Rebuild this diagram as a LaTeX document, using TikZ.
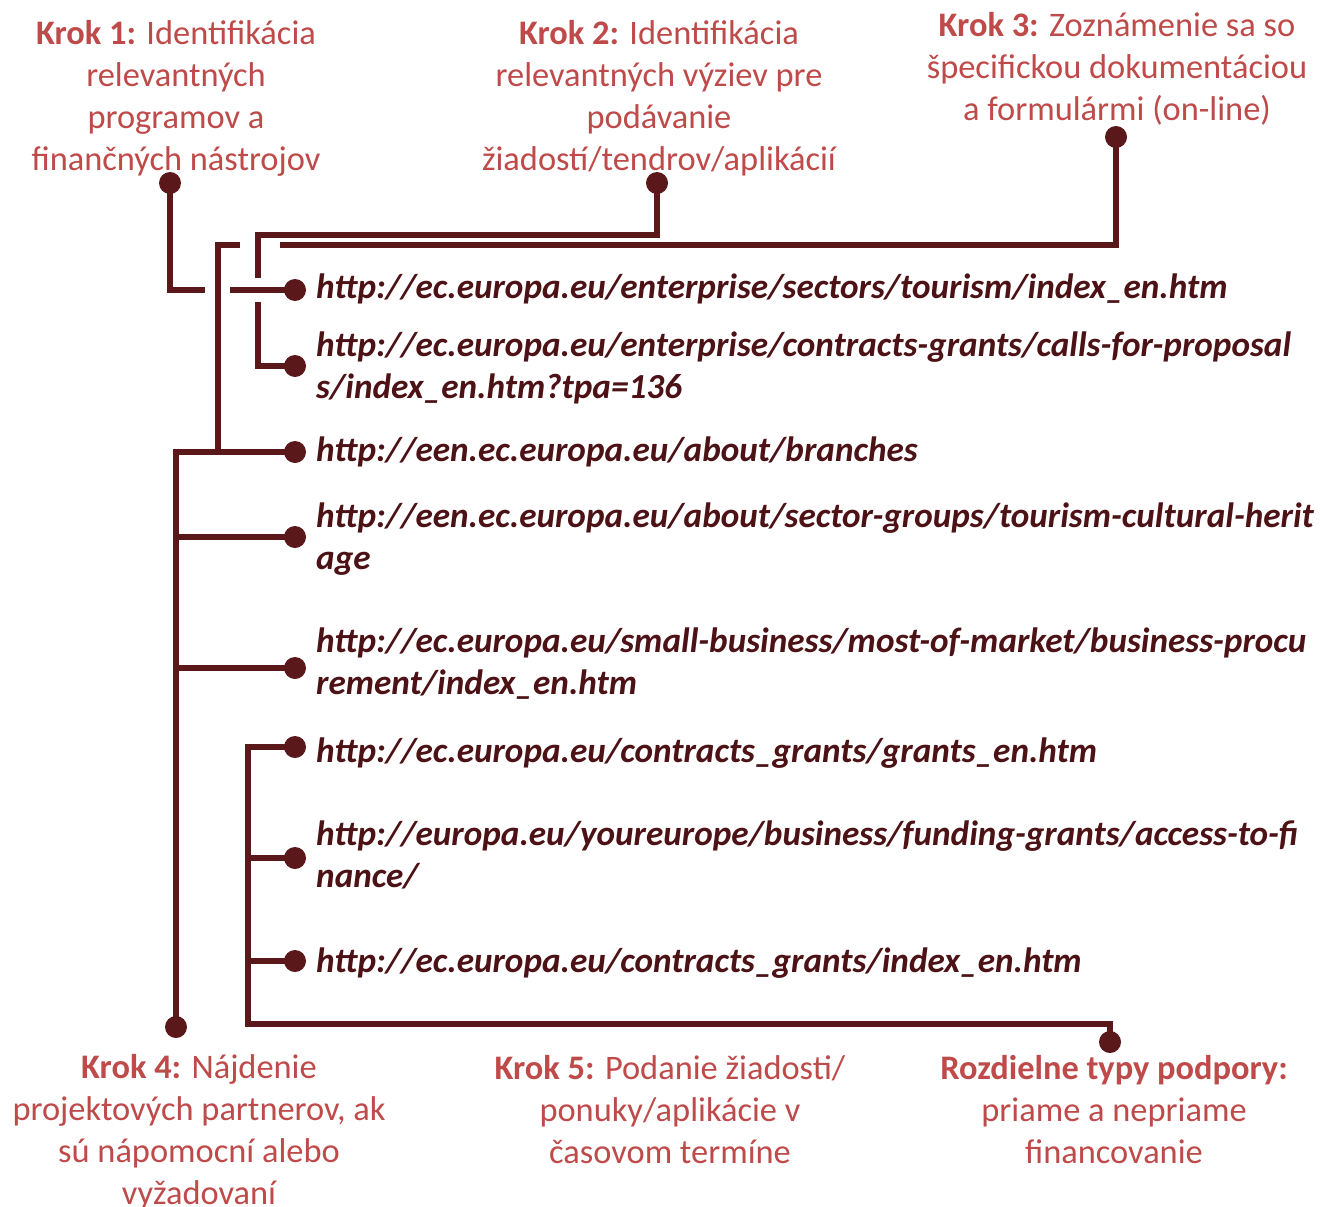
\documentclass[tikz,border=0pt]{standalone}
\usepackage{fontspec}
\setmainfont{Carlito}
\definecolor{lc}{HTML}{5A181B}
\definecolor{hc}{HTML}{BF4A4A}
\definecolor{uc}{HTML}{4C1215}
\begin{document}
\begin{tikzpicture}[x=1pt,y=-1pt,
  conn/.style={draw=lc,line width=6.5pt},
  dotnode/.style={circle,fill=lc,inner sep=0pt,minimum size=22pt},
  head/.style={anchor=north,align=center,inner sep=0pt,text=hc,font=\fontsize{34.4}{42}\selectfont},
  url/.style={anchor=north west,align=left,inner sep=0pt,text=uc,font=\fontsize{35.2}{42}\selectfont\bfseries\itshape}]
\useasboundingbox[fill=white] (0,0) rectangle (1320,1207);
\newcommand{\fl}{\rule{0pt}{30pt}}
% headings
\node[head] (k1) at (176,14) {\fl\textbf{Krok 1:} Identifikácia\\relevantných\\programov a\\finančných nástrojov};
\node[head] (k2) at (659,14) {\fl\textbf{Krok 2:} Identifikácia\\relevantných výziev pre\\podávanie\\žiadostí/tendrov/aplikácií};
\node[head] (k3) at (1117,6) {\fl\textbf{Krok 3:} Zoznámenie sa so\\špecifickou dokumentáciou\\a formulármi (on-line)};
\node[head] (k4) at (199,1048) {\fl\textbf{Krok 4:} Nájdenie\\projektových partnerov, ak\\sú nápomocní alebo\\vyžadovaní};
\node[head] (k5) at (670,1049) {\fl\textbf{Krok 5:} Podanie žiadosti/\\ponuky/aplikácie v\\časovom termíne};
\node[head] (rt) at (1114,1049) {\fl\textbf{Rozdielne typy podpory:}\\priame a nepriame\\financovanie};
% urls
\node[url] (u1) at (316,268) {\fl http://ec.europa.eu/enterprise/sectors/tourism/index\_en.htm};
\node[url] (u2) at (316,326) {\fl http://ec.europa.eu/enterprise/contracts-grants/calls-for-proposal\\s/index\_en.htm?tpa=136};
\node[url] (u3) at (316,431) {\fl http://een.ec.europa.eu/about/branches};
\node[url] (u4) at (316,497) {\fl http://een.ec.europa.eu/about/sector-groups/tourism-cultural-herit\\age};
\node[url] (u5) at (316,622) {\fl http://ec.europa.eu/small-business/most-of-market/business-procu\\rement/index\_en.htm};
\node[url] (u6) at (316,732) {\fl http://ec.europa.eu/contracts\_grants/grants\_en.htm};
\node[url] (u7) at (316,815) {\fl http://europa.eu/youreurope/business/funding-grants/access-to-fi\\nance/};
\node[url] (u8) at (316,942) {\fl http://ec.europa.eu/contracts\_grants/index\_en.htm};
% dots
\node[dotnode] (k1d) at (170,183) {};
\node[dotnode] (k2d) at (657,183) {};
\node[dotnode] (k3d) at (1116,137) {};
\node[dotnode] (k4d) at (176,1027) {};
\node[dotnode] (rd) at (1110,1042) {};
\node[dotnode] (d1) at (295,290) {};
\node[dotnode] (d2) at (295,366) {};
\node[dotnode] (d3) at (295,452) {};
\node[dotnode] (d4) at (295,537) {};
\node[dotnode] (d5) at (295,668) {};
\node[dotnode] (d6) at (295,747) {};
\node[dotnode] (d7) at (295,858) {};
\node[dotnode] (d8) at (295,961) {};
% coordinates
\coordinate (k1end) at (205,290);
\coordinate (k1re) at (230,290);
\coordinate (vtop) at (240,245);
\coordinate (k2end) at (258,278);
\coordinate (k2re) at (258,302);
\coordinate (k3end) at (280,245);
% connectors
\draw[conn] (k1d.center) |- (k1end);
\draw[conn] (k1re) -- (d1.center);
\draw[conn] (vtop) -- (218,245) -- (218,452);
\draw[conn] (k4d.center) |- (d3.center);
\draw[conn] (176,537) -- (d4.center);
\draw[conn] (176,668) -- (d5.center);
\draw[conn] (k2d.center) -- (657,235) -- (258,235) -- (k2end);
\draw[conn] (k2re) |- (d2.center);
\draw[conn] (k3d.center) |- (k3end);
\draw[conn] (d6.center) -- (248,747) -- (248,1024) -| (rd.center);
\draw[conn] (248,858) -- (d7.center);
\draw[conn] (248,961) -- (d8.center);
\end{tikzpicture}
\end{document}
